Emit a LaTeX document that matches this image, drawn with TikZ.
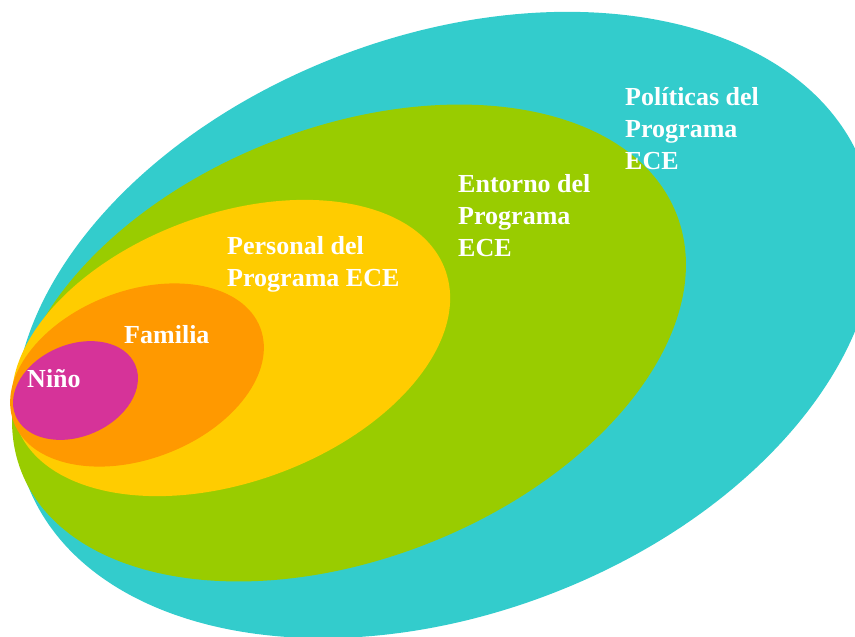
\documentclass[tikz,border=0pt]{standalone}
\usepackage{fontspec}
\setmainfont{Liberation Serif}

\definecolor{politicas}{HTML}{33CCCC}
\definecolor{entorno}{HTML}{99CC00}
\definecolor{personal}{HTML}{FFCC00}
\definecolor{familia}{HTML}{FF9900}
\definecolor{nino}{HTML}{D63399}

\begin{document}
\begin{tikzpicture}[x=0.03cm,y=-0.03cm]
        \tikzstyle{every node}+=[inner sep=0pt]
        \tikzstyle{ringlabel}=[anchor=base west, align=left, text=white, font=\fontsize{22.2}{26.9}\selectfont\bfseries]
        \useasboundingbox (0,0) rectangle (855,637);
        \clip (0,0) rectangle (855,637);
        \fill [politicas, rotate around={20.7:(445,325)}] (445,325) ellipse (447 and 289);
        \fill [entorno, rotate around={21.5:(349,343)}] (349,343) ellipse (352 and 215.5);
        \fill [personal, rotate around={20:(231,348)}] (231,348) ellipse (228 and 134);
        \fill [familia, rotate around={21:(137,375)}] (137,375) ellipse (132 and 84);
        \fill [nino, rotate around={23:(75.5,390.5)}] (75.5,390.5) ellipse (65 and 46);
        \node [ringlabel] (politicaslbl) at (625,169) {Políticas del\\Programa\\ECE};
        \node [ringlabel] (entornolbl) at (458,256) {Entorno del\\Programa\\ECE};
        \node [ringlabel] (personallbl) at (227,286) {Personal del\\Programa ECE};
        \node [ringlabel] (familialbl) at (124,343) {Familia};
        \node [ringlabel] (ninolbl) at (27,387) {Niño};
\end{tikzpicture}
\end{document}
